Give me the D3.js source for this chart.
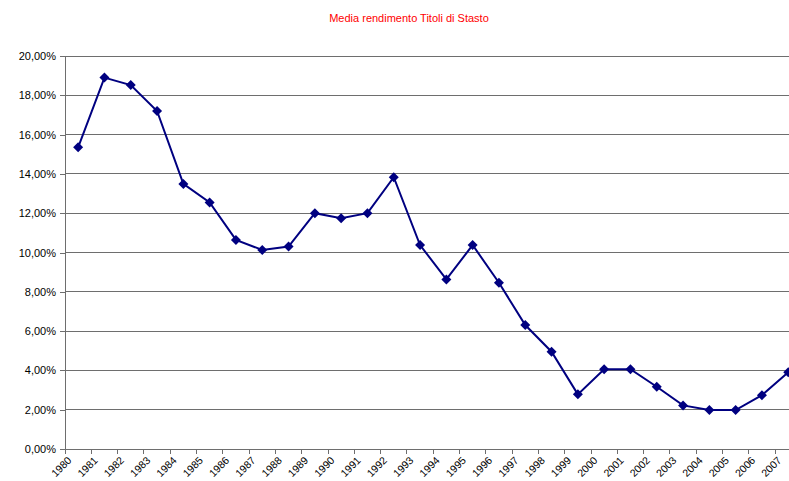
<!DOCTYPE html>
<html>
<head>
<meta charset="utf-8">
<script src="https://d3js.org/d3.v7.min.js"></script>
<style>
  body { margin: 0; background: #fff; }
  text { font-family: "Liberation Sans", Arial, sans-serif; }
</style>
</head>
<body>
<div id="chart"></div>
<script>
const years = ['1980','1981','1982','1983','1984','1985','1986','1987','1988','1989',
  '1990','1991','1992','1993','1994','1995','1996','1997','1998','1999',
  '2000','2001','2002','2003','2004','2005','2006','2007']
const rendimento = [15.35, 18.9, 18.52, 17.2, 13.49, 12.55, 10.64, 10.13, 10.3, 12.0,
  11.74, 12.0, 13.83, 10.38, 8.63, 10.38, 8.46, 6.31, 4.95, 2.78,
  4.06, 4.06, 3.17, 2.22, 1.98, 1.98, 2.74, 3.9]
const yTicks = [0, 2, 4, 6, 8, 10, 12, 14, 16, 18, 20]
const title = 'Media rendimento Titoli di Stasto'

const W = 789, H = 481
const svg = d3.select('#chart').append('svg')
  .attr('width', W)
  .attr('height', H)

const x = d3.scaleBand().domain(years).range([65, 65 + 28 * 26.3])
const y = d3.scaleLinear().domain([0, 20]).range([449, 56])

svg.append('text')
  .attr('x', 409)
  .attr('y', 22)
  .attr('text-anchor', 'middle')
  .style('font-size', '11px')
  .style('fill', '#ff0000')
  .text(title)

// gridlines
svg.append('g')
  .selectAll('line')
  .data(yTicks.slice(1))
  .enter().append('line')
  .attr('x1', 65).attr('x2', W)
  .attr('y1', d => y(d)).attr('y2', d => y(d))
  .style('stroke', '#6e6e6e')
  .style('stroke-width', 1)
  .attr('shape-rendering', 'crispEdges')

// y axis
const yAxis = svg.append('g')
  .attr('transform', 'translate(65,0)')
  .call(d3.axisLeft(y).tickValues(yTicks).tickSize(5).tickSizeOuter(0)
    .tickFormat(d => d3.format('.2f')(d).replace('.', ',') + '%'))
yAxis.select('.domain').style('stroke', '#6e6e6e').attr('shape-rendering', 'crispEdges')
yAxis.selectAll('.tick line').style('stroke', '#6e6e6e').attr('shape-rendering', 'crispEdges')
yAxis.selectAll('.tick text')
  .attr('x', -9)
  .style('font-size', '11px')
  .style('font-family', '"Liberation Sans", Arial, sans-serif')
  .style('fill', '#000')

// x axis line and ticks between categories
svg.append('line')
  .attr('x1', 65).attr('x2', W)
  .attr('y1', y(0)).attr('y2', y(0))
  .style('stroke', '#6e6e6e')
  .attr('shape-rendering', 'crispEdges')

svg.append('g')
  .selectAll('line')
  .data(years)
  .enter().append('line')
  .attr('x1', d => x(d)).attr('x2', d => x(d))
  .attr('y1', y(0)).attr('y2', y(0) + 5)
  .style('stroke', '#6e6e6e')
  .attr('shape-rendering', 'crispEdges')

svg.append('g')
  .selectAll('text')
  .data(years)
  .enter().append('text')
  .attr('transform', d => 'translate(' + (x(d) + x.bandwidth() / 2 - 6) + ',' + 461 + ') rotate(-45)')
  .attr('text-anchor', 'end')
  .style('font-size', '10.5px')
  .text(d => d)

// series
const line = d3.line()
  .x((d, i) => x(years[i]) + x.bandwidth() / 2)
  .y(d => y(d))

svg.append('path')
  .datum(rendimento)
  .attr('d', line)
  .style('fill', 'none')
  .style('stroke', '#000080')
  .style('stroke-width', 2)

svg.append('g')
  .selectAll('path')
  .data(rendimento)
  .enter().append('path')
  .attr('transform', (d, i) => 'translate(' + (x(years[i]) + x.bandwidth() / 2) + ',' + y(d) + ')')
  .attr('d', 'M0,-5L5,0L0,5L-5,0Z')
  .style('fill', '#000080')
</script>
</body>
</html>
